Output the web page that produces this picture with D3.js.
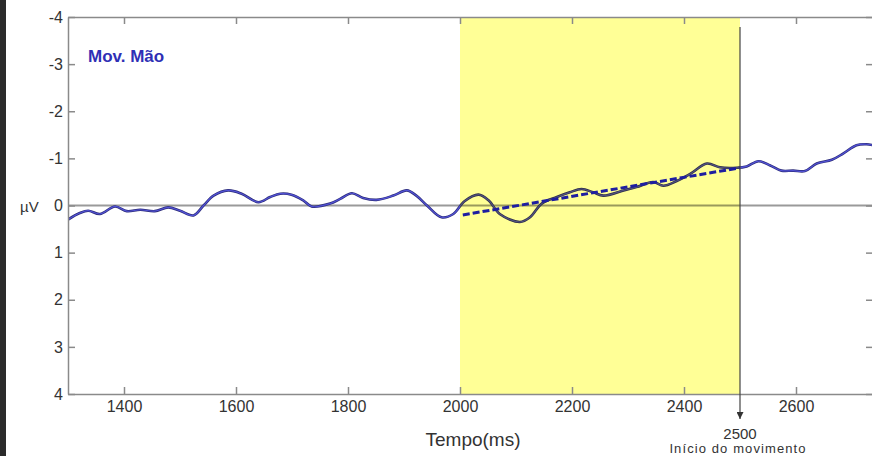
<!DOCTYPE html>
<html>
<head>
<meta charset="utf-8">
<script src="https://cdn.jsdelivr.net/npm/d3@7"></script>
<style>
    body { margin: 0; background: #fff; }
    svg { display: block; font-family: 'Liberation Sans', Arial, sans-serif; }
    .axis path, .axis line { stroke: #8a8a8a; stroke-width: 1.5; }
    .axis text { fill: #333; font-size: 16px; }
    .band { mix-blend-mode: multiply; }
</style>
</head>
<body>
<svg class="erp" width="872" height="456"></svg>
<script>
    'use strict'

    // tempo (ms) e amplitude (µV)
    const tempo = [1300, 1321, 1336, 1357, 1384, 1405, 1429, 1455, 1479, 1500, 1524, 1542, 1560, 1586, 1610, 1640,
        1661, 1679, 1699, 1720, 1735, 1768, 1786, 1807, 1827, 1851, 1881, 1905, 1922, 1941, 1967, 1988, 2008,
        2033, 2051, 2071, 2107, 2125, 2146, 2173, 2196, 2217, 2238, 2256, 2292, 2315, 2345, 2363, 2387, 2411,
        2441, 2464, 2494, 2512, 2533, 2554, 2574, 2595, 2616, 2637, 2664, 2684, 2708, 2726, 2737];
    const amplitude = [0.30, 0.16, 0.11, 0.18, 0.02, 0.12, 0.09, 0.12, 0.04, 0.11, 0.21, 0.00, -0.21, -0.32, -0.25, -0.07,
        -0.18, -0.25, -0.23, -0.11, 0.02, -0.04, -0.14, -0.26, -0.16, -0.12, -0.21, -0.32, -0.21, 0.00, 0.25, 0.18, -0.09,
        -0.23, -0.11, 0.18, 0.35, 0.25, -0.04, -0.18, -0.28, -0.35, -0.28, -0.21, -0.32, -0.39, -0.50, -0.42, -0.52, -0.67,
        -0.89, -0.81, -0.80, -0.83, -0.94, -0.85, -0.74, -0.74, -0.73, -0.89, -0.97, -1.10, -1.28, -1.30, -1.28];

    // reta de tendência (dashed)
    const tendenciaTempo = [2005, 2500];
    const tendenciaValor = [0.2, -0.8];

    const janela = [2000, 2500];          // faixa amarela
    const inicioMovimento = 2500;

    const xTicks = [1400, 1600, 1800, 2000, 2200, 2400, 2600];
    const yTicks = [-4, -3, -2, -1, 0, 1, 2, 3, 4];

    const svg = d3.select('svg.erp'),
        margin = {
            top: 17,
            left: 68
        },
        right = 873,
        bottom = 394;

    const x = d3.scaleLinear().domain([1300, 2737.5]).range([margin.left, right]);
    const y = d3.scaleLinear().domain([-4, 4]).range([margin.top, bottom]);

    // faixa escura da esquerda (recorte da imagem)
    svg.append('rect')
        .attr('x', 0).attr('y', 0)
        .attr('width', 6).attr('height', 456)
        .attr('fill', '#2b2b2b');

    svg.append('defs').append('clipPath')
        .attr('id', 'plot')
        .append('rect')
        .attr('x', margin.left).attr('y', margin.top)
        .attr('width', right - margin.left).attr('height', bottom - margin.top);

    svg.append('defs').append('marker')
        .attr('id', 'seta')
        .attr('viewBox', '0 0 10 10')
        .attr('refX', 10).attr('refY', 5)
        .attr('markerWidth', 7).attr('markerHeight', 7)
        .attr('markerUnits', 'userSpaceOnUse')
        .attr('orient', 'auto')
        .append('path')
        .attr('d', 'M0,0L10,5L0,10z')
        .attr('fill', '#333');

    const plot = svg.append('g').attr('clip-path', 'url(#plot)');

    // linha do zero
    plot.append('line')
        .attr('x1', margin.left).attr('x2', right)
        .attr('y1', y(0)).attr('y2', y(0))
        .attr('stroke', '#9a9a9a')
        .attr('stroke-width', 2);

    const dados = tempo.map((t, i) => {
        return { t: t, v: amplitude[i] };
    });

    const linha = d3.line()
        .x((d) => { return x(d.t); })
        .y((d) => { return y(d.v); })
        .curve(d3.curveCatmullRom);

    plot.append('path')
        .datum(dados)
        .attr('d', linha)
        .attr('fill', 'none')
        .attr('stroke', '#2d2d7a')
        .attr('stroke-width', 2.6);

    plot.append('path')
        .datum(dados)
        .attr('d', linha)
        .attr('fill', 'none')
        .attr('stroke', '#5252d6')
        .attr('stroke-width', 1.2);

    // janela amarela (multiply deixa a linha por baixo escurecida)
    plot.append('rect')
        .attr('class', 'band')
        .attr('x', x(janela[0]))
        .attr('y', margin.top)
        .attr('width', x(janela[1]) - x(janela[0]))
        .attr('height', bottom - margin.top)
        .attr('fill', '#ffff96');

    // tendência
    plot.append('line')
        .attr('x1', x(tendenciaTempo[0])).attr('y1', y(tendenciaValor[0]))
        .attr('x2', x(tendenciaTempo[1])).attr('y2', y(tendenciaValor[1]))
        .attr('stroke', '#1e1ea0')
        .attr('stroke-width', 3)
        .attr('stroke-dasharray', '7,3');

    // eixos estilo matlab, ticks para dentro
    svg.append('g')
        .attr('class', 'axis')
        .attr('transform', 'translate(0,' + bottom + ')')
        .call(d3.axisBottom(x).tickValues(xTicks).tickSize(-7).tickPadding(7).tickSizeOuter(0)
            .tickFormat((d) => { return String(d); }));

    svg.append('g')
        .attr('class', 'axis')
        .attr('transform', 'translate(0,' + margin.top + ')')
        .call(d3.axisTop(x).tickValues(xTicks).tickSize(-7).tickFormat('').tickSizeOuter(0));

    svg.append('g')
        .attr('class', 'axis')
        .attr('transform', 'translate(' + margin.left + ',0)')
        .call(d3.axisLeft(y).tickValues(yTicks).tickSize(-7).tickPadding(5).tickSizeOuter(0)
            .tickFormat((d) => { return String(d); }));

    svg.append('g')
        .attr('class', 'axis')
        .attr('transform', 'translate(' + right + ',0)')
        .call(d3.axisRight(y).tickValues(yTicks).tickSize(-7).tickFormat('').tickSizeOuter(0));

    // marcador do início do movimento
    svg.append('line')
        .attr('x1', x(inicioMovimento)).attr('x2', x(inicioMovimento))
        .attr('y1', 27).attr('y2', 419)
        .attr('stroke', '#444')
        .attr('stroke-width', 1.2)
        .attr('marker-end', 'url(#seta)');

    svg.append('text')
        .attr('x', x(inicioMovimento)).attr('y', 439)
        .attr('text-anchor', 'middle')
        .attr('fill', '#333')
        .style('font-size', '15px')
        .text('2500');

    svg.append('text')
        .attr('x', x(inicioMovimento) - 2).attr('y', 453)
        .attr('text-anchor', 'middle')
        .attr('fill', '#333')
        .style('font-size', '13px')
        .style('letter-spacing', '1.1px')
        .text('Início do movimento');

    svg.append('text')
        .attr('x', 473).attr('y', 446)
        .attr('text-anchor', 'middle')
        .attr('fill', '#333')
        .style('font-size', '19px')
        .text('Tempo(ms)');

    svg.append('text')
        .attr('x', 20).attr('y', y(0) + 6)
        .attr('fill', '#333')
        .style('font-size', '15px')
        .text('µV');

    svg.append('text')
        .attr('x', 88).attr('y', 62)
        .attr('fill', '#2f2fb5')
        .style('font-size', '17px')
        .style('font-weight', 'bold')
        .text('Mov. Mão');
</script>
</body>
</html>
